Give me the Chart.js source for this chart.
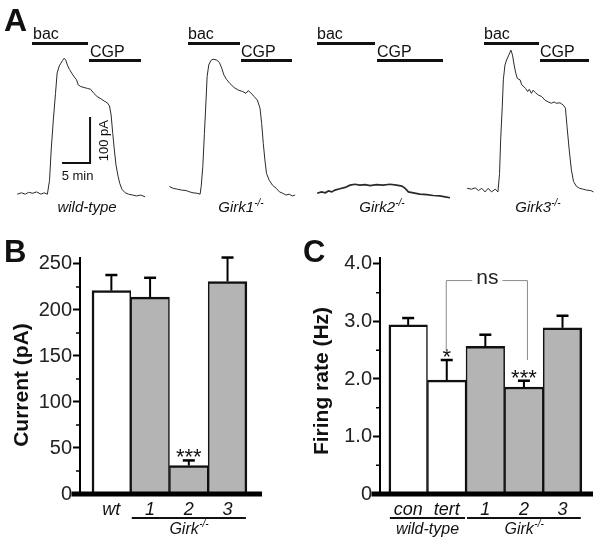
<!DOCTYPE html>
<html><head><meta charset="utf-8">
<script src="https://cdn.jsdelivr.net/npm/chart.js@4.4.1/dist/chart.umd.min.js"></script>
<style>
body{margin:0;background:#fff;}
#fig{position:relative;width:601px;height:547px;overflow:hidden;font-family:"Liberation Sans",Arial,sans-serif;color:#111;background:#fff;}
canvas{position:absolute;}
.t{position:absolute;white-space:nowrap;line-height:1;}
.bar{position:absolute;background:#111;height:3px;}
.pl{font-weight:bold;}
.drug{font-size:16px;}
.geno{font-size:15px;font-style:italic;transform:translateX(-50%);}
.sup{font-size:10px;position:relative;top:-6px;}
</style></head>
<body><div id="fig">
<canvas id="tr1" width="140" height="190" style="left:15px;top:20px"></canvas>
<canvas id="tr2" width="140" height="190" style="left:165px;top:20px"></canvas>
<canvas id="tr3" width="140" height="190" style="left:315px;top:20px"></canvas>
<canvas id="tr4" width="140" height="190" style="left:465px;top:20px"></canvas>
<canvas id="chB" width="300" height="332" style="left:0px;top:215px"></canvas>
<canvas id="chC" width="301" height="332" style="left:300px;top:215px"></canvas>

<div class="t pl" style="left:4px;top:4px;font-size:32px">A</div>
<div class="t pl" style="left:4px;top:236px;font-size:31px">B</div>
<div class="t pl" style="left:303px;top:236px;font-size:31px">C</div>

<div class="t drug" style="left:33px;top:26px">bac</div><div class="bar" style="left:32px;top:42px;width:56px"></div>
<div class="t drug" style="left:90px;top:44px">CGP</div><div class="bar" style="left:89px;top:59px;width:52px"></div>
<div class="t drug" style="left:188px;top:26px">bac</div><div class="bar" style="left:188px;top:42px;width:52px"></div>
<div class="t drug" style="left:241px;top:44px">CGP</div><div class="bar" style="left:241px;top:59px;width:51px"></div>
<div class="t drug" style="left:317px;top:26px">bac</div><div class="bar" style="left:317px;top:42px;width:58px"></div>
<div class="t drug" style="left:377px;top:44px">CGP</div><div class="bar" style="left:377px;top:59px;width:66px"></div>
<div class="t drug" style="left:484px;top:26px">bac</div><div class="bar" style="left:484px;top:42px;width:55px"></div>
<div class="t drug" style="left:540px;top:44px">CGP</div><div class="bar" style="left:540px;top:59px;width:49px"></div>

<div class="t geno" style="left:87px;top:199px">wild-type</div>
<div class="t geno" style="left:241px;top:199px">Girk1<span class="sup">-/-</span></div>
<div class="t geno" style="left:382px;top:199px">Girk2<span class="sup">-/-</span></div>
<div class="t geno" style="left:538px;top:199px">Girk3<span class="sup">-/-</span></div>
</div>
<script>
// ---------- Panel A: baclofen-evoked current traces (time in min, current in pA) ----------
const timeWT = [0.4,1.2,1.9,2.5,3.3,4.0,4.8,5.4,6.0,6.4,6.7,7.1,7.5,7.8,8.2,8.5,8.8,9.1,9.4,9.7,10.1,10.5,11.0,11.4,11.7,12.2,12.8,13.4,14.0,14.6,15.2,15.9,16.5,17.1,17.5,17.8,18.1,18.4,18.7,19.1,19.4,19.8,20.4,21.0,21.8,22.5,23.3,24.1];
const currentWT = [13,16,13,17,15,18,13,16,13,44,111,178,237,282,298,304,310,315,311,300,290,282,273,267,256,252,250,248,246,237,230,225,220,216,209,189,148,111,78,52,37,24,16,13,11,9,11,7];
const timeGirk1 = [0.8,1.5,2.3,3.1,3.9,4.6,5.2,5.9,6.5,6.7,7.0,7.3,7.6,7.8,8.1,8.5,8.9,9.6,10.1,10.5,10.9,11.4,12.0,12.8,13.6,14.4,15.0,15.4,15.9,16.5,17.1,17.6,17.9,18.2,18.5,18.8,19.3,19.9,20.6,21.2,21.8,22.4,23.0,23.6,24.1];
const currentGirk1 = [30,26,24,22,21,18,16,15,13,30,74,148,222,274,300,310,313,311,305,293,278,268,259,250,244,241,237,243,238,230,222,204,170,126,89,59,44,33,26,18,15,11,13,9,11];
const timeGirk2 = [0.4,1.2,1.9,2.5,3.1,3.7,4.6,5.6,6.5,7.4,8.3,9.3,10.2,11.4,12.6,13.9,15.1,16.1,16.7,17.3,18.2,19.4,20.7,21.9,23.1,24.1,25.0];
const currentGirk2 = [15,18,16,20,18,22,25,28,33,35,33,34,32,34,33,35,33,31,26,18,16,13,12,10,9,7,5];
const timeGirk3 = [0.4,1.2,1.9,2.5,3.1,3.7,4.3,4.9,5.6,6.1,6.4,6.6,6.9,7.1,7.4,7.7,8.1,8.5,8.8,9.1,9.4,9.7,10.2,10.5,10.9,11.2,11.6,11.9,12.3,12.6,13.1,13.6,14.2,14.8,15.4,16.0,16.5,16.9,17.6,18.2,18.6,18.9,19.3,19.7,20.1,20.6,21.2,21.9,22.5,23.3,23.8];
const currentGirk3 = [26,24,27,21,26,18,26,18,24,18,59,133,207,267,300,311,322,333,322,300,282,270,267,256,252,248,241,246,237,244,238,233,230,222,218,215,218,215,216,211,204,163,111,67,41,31,26,24,22,21,18];

// scale bar (5 min, 100 pA)
const scaleBarMinutes = 5;
const scaleBarPA = 100;

// ---------- Panel B: current amplitude ----------
const currentCategories = ['wt', '1', '2', '3'];
const currentMeans = [221, 214, 31, 231];
const currentSEM = [17, 21, 5.5, 26];
const currentStars = ['', '', '***', ''];
const currentTicks = [0, 50, 100, 150, 200, 250];
const currentMinorTicks = [25, 75, 125, 175, 225];

// ---------- Panel C: firing rate ----------
const rateCategories = ['con', 'tert', '1', '2', '3'];
const rateMeans = [2.94, 1.98, 2.57, 1.86, 2.89];
const rateSEM = [0.12, 0.35, 0.20, 0.11, 0.21];
const rateStars = ['', '*', '', '***', ''];
const rateTicks = [0, 1, 2, 3, 4];
const rateMinorTicks = [0.5, 1.5, 2.5, 3.5];

const FONT = '"Liberation Sans", Arial, sans-serif';
const INK = '#111';

// ---------- trace charts ----------
const TRACE_T_MAX = 140 / 5.4;     // window width in minutes
const TRACE_I_MIN = -22.2, TRACE_I_MAX = 400;

const scaleBarPlugin = {
  id: 'scaleBar',
  afterDraw(chart) {
    const {ctx, scales: {x, y}} = chart;
    const tEnd = 13.9, iBase = 82;
    const x1 = x.getPixelForValue(tEnd), x0 = x.getPixelForValue(tEnd - scaleBarMinutes);
    const yb = y.getPixelForValue(iBase), yt = y.getPixelForValue(iBase + scaleBarPA);
    ctx.save();
    ctx.strokeStyle = INK; ctx.lineWidth = 2; ctx.lineCap = 'square';
    ctx.beginPath(); ctx.moveTo(x0, yb); ctx.lineTo(x1, yb); ctx.lineTo(x1, yt); ctx.stroke();
    ctx.fillStyle = INK; ctx.font = '13px ' + FONT;
    ctx.textAlign = 'center'; ctx.textBaseline = 'alphabetic';
    ctx.fillText(scaleBarMinutes + ' min', (x0 + x1) / 2 + 1, yb + 17);
    ctx.translate(x1 + 18, (yb + yt) / 2);
    ctx.rotate(-Math.PI / 2);
    ctx.fillText(scaleBarPA + ' pA', 0, 0);
    ctx.restore();
  }
};

function traceChart(id, t, I, lw, plugins) {
  new Chart(document.getElementById(id), {
    type: 'line',
    data: { datasets: [{ data: t.map((v, i) => ({x: v, y: I[i]})), borderColor: '#2a2a2a', borderWidth: lw, pointRadius: 0, tension: 0, fill: false }] },
    options: {
      animation: false, responsive: false, devicePixelRatio: 1, events: [],
      layout: { padding: 0 },
      plugins: { legend: {display: false}, tooltip: {enabled: false} },
      scales: {
        x: { type: 'linear', display: false, min: 0, max: TRACE_T_MAX },
        y: { type: 'linear', display: false, min: TRACE_I_MIN, max: TRACE_I_MAX }
      }
    },
    plugins: plugins || []
  });
}
traceChart('tr1', timeWT, currentWT, 1, [scaleBarPlugin]);
traceChart('tr2', timeGirk1, currentGirk1, 1);
traceChart('tr3', timeGirk2, currentGirk2, 1.7);
traceChart('tr4', timeGirk3, currentGirk3, 1);

// ---------- bar charts ----------
function drawGirk(ctx, cx, y) {
  const big = 'italic 16px ' + FONT, small = 'italic 10px ' + FONT;
  ctx.font = big; const w1 = ctx.measureText('Girk').width;
  ctx.font = small; const w2 = ctx.measureText('-/-').width;
  const x0 = cx - (w1 + w2) / 2;
  ctx.textAlign = 'left'; ctx.textBaseline = 'alphabetic';
  ctx.font = big; ctx.fillText('Girk', x0, y);
  ctx.font = small; ctx.fillText('-/-', x0 + w1 + 0.5, y - 7);
}

function extrasPlugin(cfg) {
  return {
    id: 'extras',
    afterDraw(chart) {
      const {ctx, chartArea: a, scales: {x, y}} = chart;
      const meta = chart.getDatasetMeta(0);
      const line = (x1, y1, x2, y2) => { ctx.beginPath(); ctx.moveTo(x1, y1); ctx.lineTo(x2, y2); ctx.stroke(); };
      ctx.save();
      ctx.fillStyle = '#000'; ctx.strokeStyle = '#000';
      // thick baseline
      const y0 = y.getPixelForValue(0);
      ctx.fillRect(a.left - 8.5, y0 - 2.5, a.right - a.left + 8.5, 5);
      // minor ticks
      ctx.lineWidth = 1.5;
      cfg.minor.forEach(v => { const py = y.getPixelForValue(v); line(a.left - 4, py, a.left, py); });
      // axis title
      ctx.save();
      ctx.fillStyle = INK; ctx.font = 'bold 21px ' + FONT;
      ctx.textAlign = 'center'; ctx.textBaseline = 'middle';
      ctx.translate(22, cfg.titleY);
      ctx.rotate(-Math.PI / 2);
      ctx.fillText(cfg.title, 0, 0);
      ctx.restore();
      // error bars
      cfg.means.forEach((m, i) => {
        const px = meta.data[i].x;
        const base = y.getPixelForValue(m), top = y.getPixelForValue(m + cfg.sem[i]);
        ctx.strokeStyle = '#000';
        ctx.lineWidth = 2; line(px, base, px, top);
        ctx.lineWidth = 2.5; line(px - 6, top, px + 6, top);
        if (cfg.stars[i]) {
          ctx.font = '22px ' + FONT; ctx.textAlign = 'center'; ctx.textBaseline = 'alphabetic';
          ctx.fillStyle = INK; ctx.fillText(cfg.stars[i], px, top + 4);
        }
      });
      // group lines and labels
      ctx.fillStyle = INK; ctx.strokeStyle = INK; ctx.lineWidth = 2;
      cfg.groups.forEach(g => {
        const l = x.getPixelForValue(g.from - 0.5) + 1, r = x.getPixelForValue(g.to + 0.5) - 1;
        line(l, y0 + 24, r, y0 + 24);
        const cx = (l + r) / 2;
        if (g.label === 'Girk') drawGirk(ctx, cx, y0 + 40);
        else {
          ctx.font = 'italic 16px ' + FONT; ctx.textAlign = 'center'; ctx.textBaseline = 'alphabetic';
          ctx.fillText(g.label, cx, y0 + 40);
        }
      });
      // significance bracket
      if (cfg.bracket) {
        const b = cfg.bracket;
        const xl = meta.data[b.from - 1].x - 1, xr = meta.data[b.to - 1].x + 3;
        const yt = y.getPixelForValue(b.top);
        ctx.strokeStyle = '#8a8a8a'; ctx.lineWidth = 1;
        ctx.font = '21px ' + FONT;
        const tw = ctx.measureText(b.text).width;
        const cx = (xl + xr) / 2 + 1;
        ctx.beginPath();
        ctx.moveTo(xl + 0.5, y.getPixelForValue(b.leftEnd)); ctx.lineTo(xl + 0.5, yt + 0.5); ctx.lineTo(cx - tw / 2 - 4, yt + 0.5);
        ctx.moveTo(cx + tw / 2 + 4, yt + 0.5); ctx.lineTo(xr + 0.5, yt + 0.5); ctx.lineTo(xr + 0.5, y.getPixelForValue(b.rightEnd));
        ctx.stroke();
        ctx.fillStyle = '#222'; ctx.textAlign = 'center'; ctx.textBaseline = 'middle';
        ctx.fillText(b.text, cx, yt - 2);
      }
      ctx.restore();
    }
  };
}

function barChart(id, cats, means, cfg) {
  const n = cats.length;
  new Chart(document.getElementById(id), {
    type: 'bar',
    data: { datasets: [{
      data: means.map((v, i) => ({x: i + 1, y: v})),
      backgroundColor: cfg.fills,
      borderColor: INK,
      borderWidth: ctx => ({ top: 2.5, bottom: 0, left: ctx.dataIndex === 0 ? 2.5 : 1.5, right: ctx.dataIndex === n - 1 ? 2.5 : 1.5 }),
      borderSkipped: false,
      barPercentage: 1, categoryPercentage: 1
    }]},
    options: {
      animation: false, responsive: false, devicePixelRatio: 1, events: [],
      layout: { padding: { top: 43, right: cfg.padRight, left: 0, bottom: 0 } },
      plugins: { legend: {display: false}, tooltip: {enabled: false} },
      scales: {
        x: {
          type: 'linear', min: cfg.xMin, max: cfg.xMax, offset: false,
          afterBuildTicks: s => { s.ticks = cats.map((c, i) => ({value: i + 1})); },
          afterFit: s => { s.height = 53; },
          grid: { display: false, drawTicks: false, tickLength: 0, offset: false },
          border: { display: false },
          ticks: { autoSkip: false, maxRotation: 0, padding: 5, color: INK,
                   font: { family: FONT, size: 18, style: 'italic' },
                   callback: v => cats[Math.round(v) - 1] }
        },
        y: {
          type: 'linear', min: 0, max: cfg.yMax,
          afterBuildTicks: s => { s.ticks = cfg.ticks.map(v => ({value: v})); },
          afterFit: s => { s.width = 80; },
          grid: { drawOnChartArea: false, drawTicks: true, tickLength: 7, tickWidth: 2,
                  tickColor: c => (c.tick && c.tick.value === 0) ? 'rgba(0,0,0,0)' : '#000' },
          border: { display: true, width: 2, color: '#000' },
          ticks: { padding: 1, color: '#222', font: { family: FONT, size: 20 }, callback: cfg.tickFmt },
          title: { display: false }
        }
      }
    },
    plugins: [extrasPlugin(cfg)]
  });
}

const WHITE = '#ffffff', GRAY = '#b4b4b4';
barChart('chB', currentCategories, currentMeans, {
  fills: [WHITE, GRAY, GRAY, GRAY], padRight: 38, xMin: 0.19, xMax: 4.89, yMax: 256.5,
  ticks: currentTicks, minor: currentMinorTicks, tickFmt: v => String(v),
  title: 'Current (pA)', titleY: 170, means: currentMeans, sem: currentSEM, stars: currentStars,
  groups: [{label: 'Girk', from: 2, to: 4}]
});
barChart('chC', rateCategories, rateMeans, {
  fills: [WHITE, WHITE, GRAY, GRAY, GRAY], padRight: 8, xMin: 0.27, xMax: 5.79, yMax: 4.104,
  ticks: rateTicks, minor: rateMinorTicks, tickFmt: v => v === 0 ? '0' : v.toFixed(1),
  title: 'Firing rate (Hz)', titleY: 166, means: rateMeans, sem: rateSEM, stars: rateStars,
  groups: [{label: 'wild-type', from: 1, to: 2}, {label: 'Girk', from: 3, to: 5}],
  bracket: {from: 2, to: 4, top: 3.72, leftEnd: 2.47, rightEnd: 2.33, text: 'ns'}
});
</script>
</body></html>
